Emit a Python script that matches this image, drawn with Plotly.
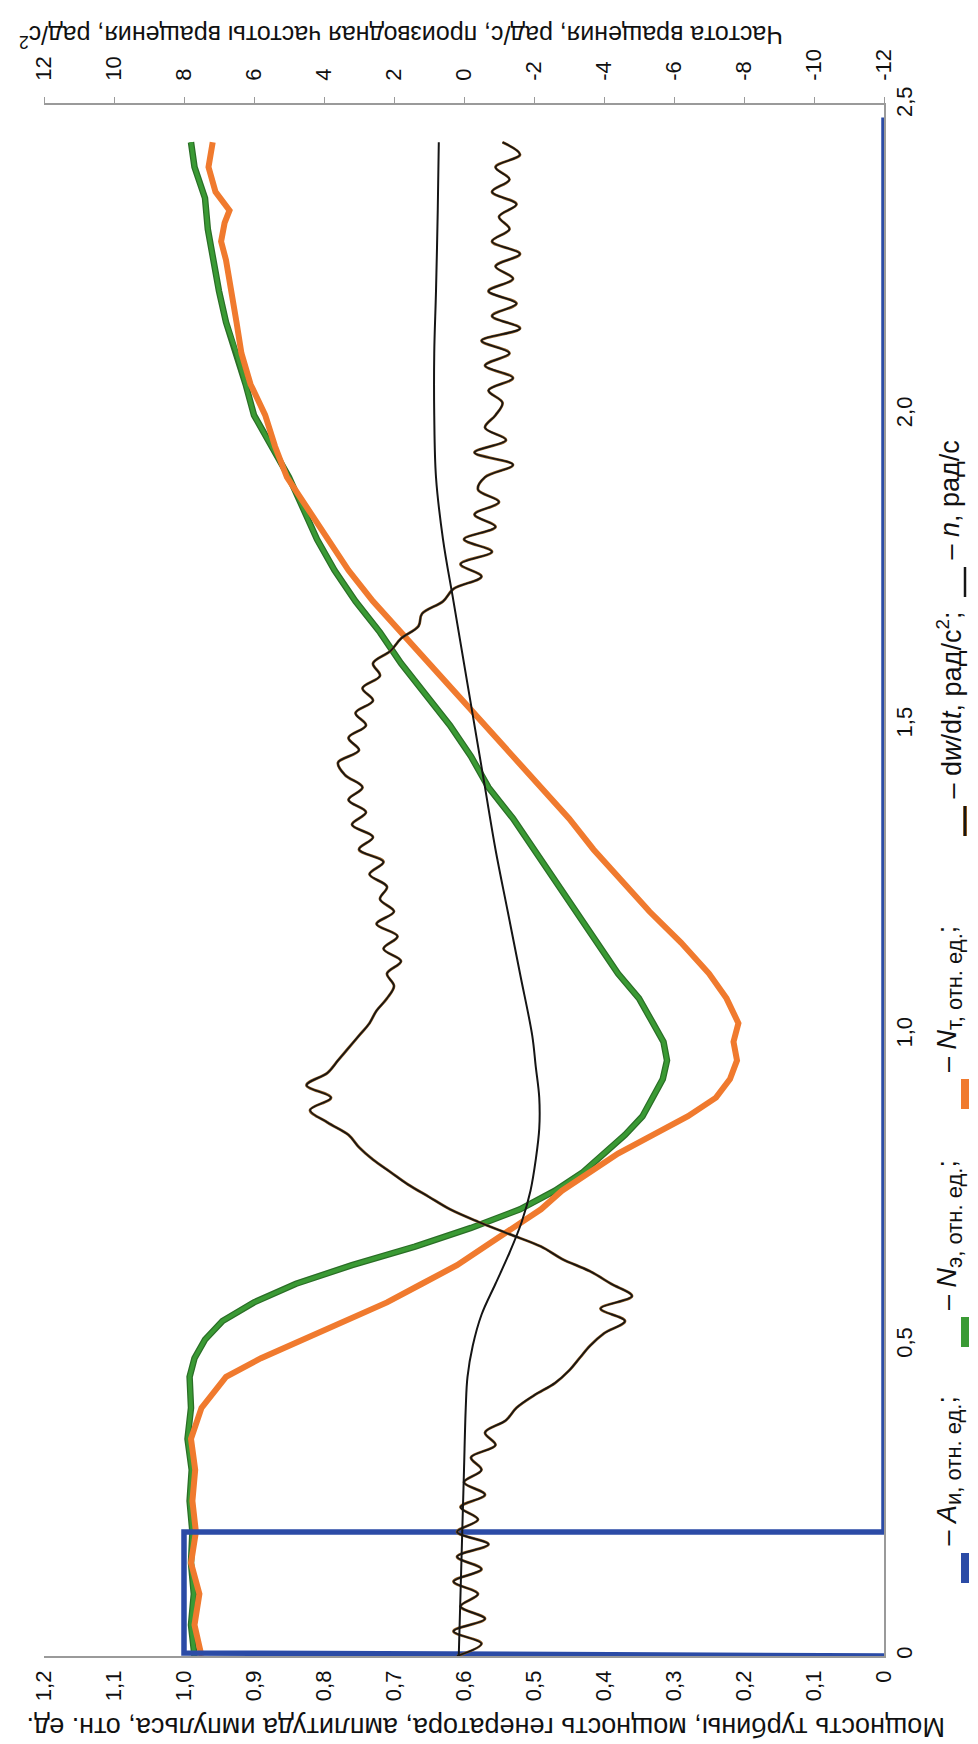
import plotly.graph_objects as go

# ---------------- data ----------------
# pulse amplitude A_и (relative units)
t_a = [0.0, 0.005, 0.2, 0.2, 2.48]
a_i = [0.0, 1.0, 1.0, 0.0, 0.0]

# generator power N_э (relative units)
t_g = [0, 0.05, 0.1, 0.15, 0.2, 0.25, 0.3, 0.35, 0.4, 0.45, 0.48, 0.51, 0.54, 0.57, 0.6,
       0.63, 0.66, 0.69, 0.72, 0.75, 0.78, 0.81, 0.84, 0.87, 0.9, 0.93, 0.96, 0.99, 1.02,
       1.06, 1.1, 1.15, 1.2, 1.25, 1.3, 1.35, 1.4, 1.45, 1.5, 1.55, 1.6, 1.65, 1.7, 1.75,
       1.8, 1.85, 1.9, 1.95, 2.0, 2.05, 2.1, 2.15, 2.2, 2.25, 2.3, 2.35, 2.4, 2.44]
n_e = [0.985, 0.99, 0.986, 0.99, 0.988, 0.992, 0.989, 0.995, 0.99, 0.992, 0.985, 0.97, 0.945,
       0.9, 0.84, 0.76, 0.67, 0.59, 0.52, 0.47, 0.43, 0.40, 0.37, 0.345, 0.33, 0.316, 0.31,
       0.315, 0.33, 0.35, 0.38, 0.41, 0.44, 0.47, 0.50, 0.53, 0.565, 0.59, 0.62, 0.655, 0.69,
       0.72, 0.755, 0.785, 0.81, 0.83, 0.85, 0.875, 0.9, 0.912, 0.925, 0.94, 0.95, 0.958,
       0.966, 0.97, 0.985, 0.99]

# turbine power N_т (relative units)
t_t = [0, 0.05, 0.1, 0.15, 0.2, 0.25, 0.3, 0.35, 0.4, 0.45, 0.48, 0.51, 0.54, 0.57, 0.6,
       0.63, 0.66, 0.69, 0.72, 0.75, 0.78, 0.81, 0.84, 0.87, 0.9, 0.93, 0.96, 0.99, 1.02,
       1.06, 1.1, 1.15, 1.2, 1.25, 1.3, 1.35, 1.4, 1.45, 1.5, 1.55, 1.6, 1.65, 1.7, 1.75,
       1.8, 1.85, 1.9, 1.95, 2.0, 2.05, 2.1, 2.15, 2.2, 2.25, 2.28, 2.31, 2.33, 2.36, 2.4, 2.44]
n_t = [0.975, 0.985, 0.978, 0.99, 0.983, 0.988, 0.984, 0.99, 0.975, 0.94, 0.89, 0.83, 0.77,
       0.71, 0.66, 0.61, 0.57, 0.53, 0.49, 0.46, 0.42, 0.38, 0.33, 0.28, 0.24, 0.22, 0.21,
       0.215, 0.208, 0.225, 0.25, 0.29, 0.335, 0.375, 0.415, 0.45, 0.49, 0.53, 0.57, 0.61,
       0.65, 0.69, 0.73, 0.765, 0.795, 0.825, 0.853, 0.87, 0.884, 0.905, 0.918, 0.925, 0.932,
       0.94, 0.947, 0.942, 0.935, 0.955, 0.965, 0.959]

# rotation frequency n, rad/s
t_n = [0, 0.1, 0.2, 0.3, 0.4, 0.45, 0.5, 0.55, 0.6, 0.65, 0.7, 0.75, 0.8, 0.85, 0.9, 0.95,
       1.0, 1.1, 1.2, 1.3, 1.4, 1.5, 1.6, 1.7, 1.8, 1.9, 2.0, 2.1, 2.2, 2.33, 2.44]
n_rot = [0.15, 0.1, 0.05, 0.0, -0.05, -0.1, -0.25, -0.5, -0.9, -1.3, -1.65, -1.9, -2.05, -2.15,
         -2.15, -2.05, -1.95, -1.6, -1.25, -0.9, -0.6, -0.3, 0.0, 0.3, 0.6, 0.8, 0.85, 0.85,
         0.8, 0.75, 0.72]

# derivative of rotation frequency dw/dt, rad/s^2 (step 0.02 s)
t_d = [round(0.02 * i, 2) for i in range(123)]
dwdt = [0.2, -0.5, 0.3, -0.6, 0.1, -0.4, 0.3, -0.5, 0.2, -0.7, 0.2, -0.4, 0.1, -0.6, 0.0,
        -0.5, -0.2, -0.9, -0.6, -1.2, -1.5, -2.0, -2.6, -3.0, -3.3, -3.6, -4.0, -4.6, -3.9,
        -4.8, -4.2, -3.6, -2.8, -2.2, -1.3, -0.4, 0.4, 1.0, 1.6, 2.1, 2.6, 3.0, 3.3, 3.9, 4.4,
        3.8, 4.5, 3.9, 3.6, 3.3, 3.0, 2.7, 2.5, 2.2, 2.0, 2.2, 1.8, 2.3, 1.9, 2.5, 2.0, 2.4,
        2.2, 2.7, 2.3, 3.0, 2.6, 3.2, 2.8, 3.3, 2.9, 3.4, 3.6, 3.0, 3.3, 2.8, 3.1, 2.6, 2.9,
        2.4, 2.6, 2.1, 1.8, 1.3, 1.2, 0.6, 0.3, -0.5, 0.1, -0.8, 0.0, -0.9, -0.3, -1.0, -0.4,
        -0.6, -1.4, -0.3, -1.2, -0.6, -0.9, -1.1, -0.7, -1.4, -0.6, -1.3, -0.5, -1.6, -0.8,
        -1.5, -0.7, -1.4, -0.9, -1.6, -0.8, -1.3, -1.0, -1.5, -0.8, -1.3, -0.9, -1.6, -1.1]

# axis ticks
p_ticks = [round(0.1 * i, 1) for i in range(13)]
p_text = ["0" if v == 0 else f"{v:.1f}".replace(".", ",") for v in p_ticks]
r_ticks = list(range(-12, 13, 2))
r_text = [str(v) for v in r_ticks]
t_ticks = [0, 0.5, 1.0, 1.5, 2.0, 2.5]
t_text = ["0", "0,5", "1,0", "1,5", "2,0", "2,5"]

# ---------------- colours ----------------
BLUE = "#2b4ba6"
GREEN = "#3a9a34"
GREEN_EDGE = "#2a6e26"
ORANGE = "#f07a2e"
BROWN = "#8c5a22"
BLACK = "#151515"
AXIS = "#9a9a9a"
FONT = "Liberation Sans, Arial, sans-serif"

# ---------------- figure geometry (pixels) ----------------
W, H = 978, 1744
L, R, T, B = 36, 102, 97, 96
PW, PH = W - L - R, H - T - B


def px(x):
    return (x - L) / PW


def py(y):
    return (H - B - y) / PH


fig = go.Figure()

fig.add_trace(go.Scatter(x=n_e, y=t_g, mode="lines", xaxis="x", yaxis="y",
                         line=dict(color=GREEN_EDGE, width=6.5), hoverinfo="skip"))
fig.add_trace(go.Scatter(x=n_e, y=t_g, mode="lines", xaxis="x", yaxis="y",
                         line=dict(color=GREEN, width=4), name="N_э"))
fig.add_trace(go.Scatter(x=n_t, y=t_t, mode="lines", xaxis="x", yaxis="y",
                         line=dict(color=ORANGE, width=6), name="N_т"))
fig.add_trace(go.Scatter(x=dwdt, y=t_d, mode="lines", xaxis="x2", yaxis="y",
                         line=dict(color=BROWN, width=2.8, shape="spline", smoothing=1.0),
                         hoverinfo="skip"))
fig.add_trace(go.Scatter(x=dwdt, y=t_d, mode="lines", xaxis="x2", yaxis="y",
                         line=dict(color=BLACK, width=1.7, shape="spline", smoothing=1.0),
                         name="dw/dt"))
fig.add_trace(go.Scatter(x=n_rot, y=t_n, mode="lines", xaxis="x2", yaxis="y",
                         line=dict(color=BLACK, width=2, shape="spline"), name="n"))
fig.add_trace(go.Scatter(x=a_i, y=t_a, mode="lines", xaxis="x", yaxis="y",
                         line=dict(color=BLUE, width=5.5), name="A_и"))

tickfont = dict(family=FONT, size=22, color="#111")

fig.update_layout(
    width=W, height=H,
    margin=dict(l=L, r=R, t=T, b=B),
    paper_bgcolor="white", plot_bgcolor="white",
    showlegend=False,
    font=dict(family=FONT, color="#111"),
    xaxis=dict(range=[1.2, 0], tickvals=p_ticks, ticktext=p_text, tickangle=-90,
               tickfont=tickfont, showgrid=False, zeroline=False, showline=True,
               linecolor=AXIS, linewidth=1.5, ticks="", anchor="y", side="bottom",
               ticklabelstandoff=4),
    xaxis2=dict(range=[12, -12], tickvals=r_ticks, ticktext=r_text, tickangle=-90,
                tickfont=tickfont, showgrid=False, zeroline=False, showline=True,
                linecolor=AXIS, linewidth=1.5, ticks="outside", ticklen=6,
                tickcolor=AXIS, overlaying="x", side="top", anchor="y",
                ticklabelstandoff=12),
    yaxis=dict(range=[0, 2.5], tickvals=t_ticks, ticktext=t_text, tickangle=-90,
               tickfont=tickfont, showgrid=False, zeroline=False, showline=True,
               linecolor=AXIS, linewidth=1.5, ticks="", side="right", anchor="x"),
)

annotations = [
    dict(text="Частота вращения, рад/с, производная частоты вращения, рад/с<sup>2</sup>",
         x=px(393), y=py(28), textangle=180, xanchor="center", yanchor="middle", size=25),
    dict(text="Мощность турбины, мощность генератора, амплитуда импульса, отн. ед.",
         x=px(478), y=py(1719), textangle=180, xanchor="center", yanchor="middle", size=27),
]

SUB = '<sub><span style="font-size:22px">{}</span></sub>'
# legend: (label, colour, centre of sample bar in pixels from top)
legend_items = [
    ("– <i>A</i>" + SUB.format("и, отн. ед.") + ";", BLUE, 1560),
    ("– <i>N</i>" + SUB.format("э, отн. ед.") + ";", GREEN, 1324),
    ("– <i>N</i>" + SUB.format("т, отн. ед.") + ";", ORANGE, 1086),
    ("– d<i>w</i>/d<i>t</i>, рад/с<sup>2</sup>;", "dw", 813),
    ("– <i>n</i>, рад/с", BLACK, 574),
]
LEG_X = 957
BAR = 30
shapes = []
for text, col, yc in legend_items:
    y0, y1 = yc + BAR / 2, yc - BAR / 2
    if col == "dw":
        shapes.append(dict(type="line", xref="paper", yref="paper", x0=px(LEG_X), x1=px(LEG_X),
                           y0=py(y0), y1=py(y1), line=dict(color=BROWN, width=4)))
        shapes.append(dict(type="line", xref="paper", yref="paper", x0=px(LEG_X), x1=px(LEG_X),
                           y0=py(y0), y1=py(y1), line=dict(color=BLACK, width=2)))
    elif col == BLACK:
        shapes.append(dict(type="line", xref="paper", yref="paper", x0=px(LEG_X), x1=px(LEG_X),
                           y0=py(y0), y1=py(y1), line=dict(color=BLACK, width=2.5)))
    else:
        shapes.append(dict(type="line", xref="paper", yref="paper", x0=px(LEG_X), x1=px(LEG_X),
                           y0=py(y0), y1=py(y1), line=dict(color=col, width=8)))
    annotations.append(dict(text=text, x=px(LEG_X - 16), y=py(y1 - 5), textangle=-90,
                            xanchor="center", yanchor="bottom", size=27))

ann_out = []
for a in annotations:
    size = a.pop("size")
    a.update(xref="paper", yref="paper", showarrow=False,
             font=dict(family=FONT, size=size, color="#111"))
    ann_out.append(a)

fig.update_layout(annotations=ann_out, shapes=shapes)

fig.write_html("out.html")
